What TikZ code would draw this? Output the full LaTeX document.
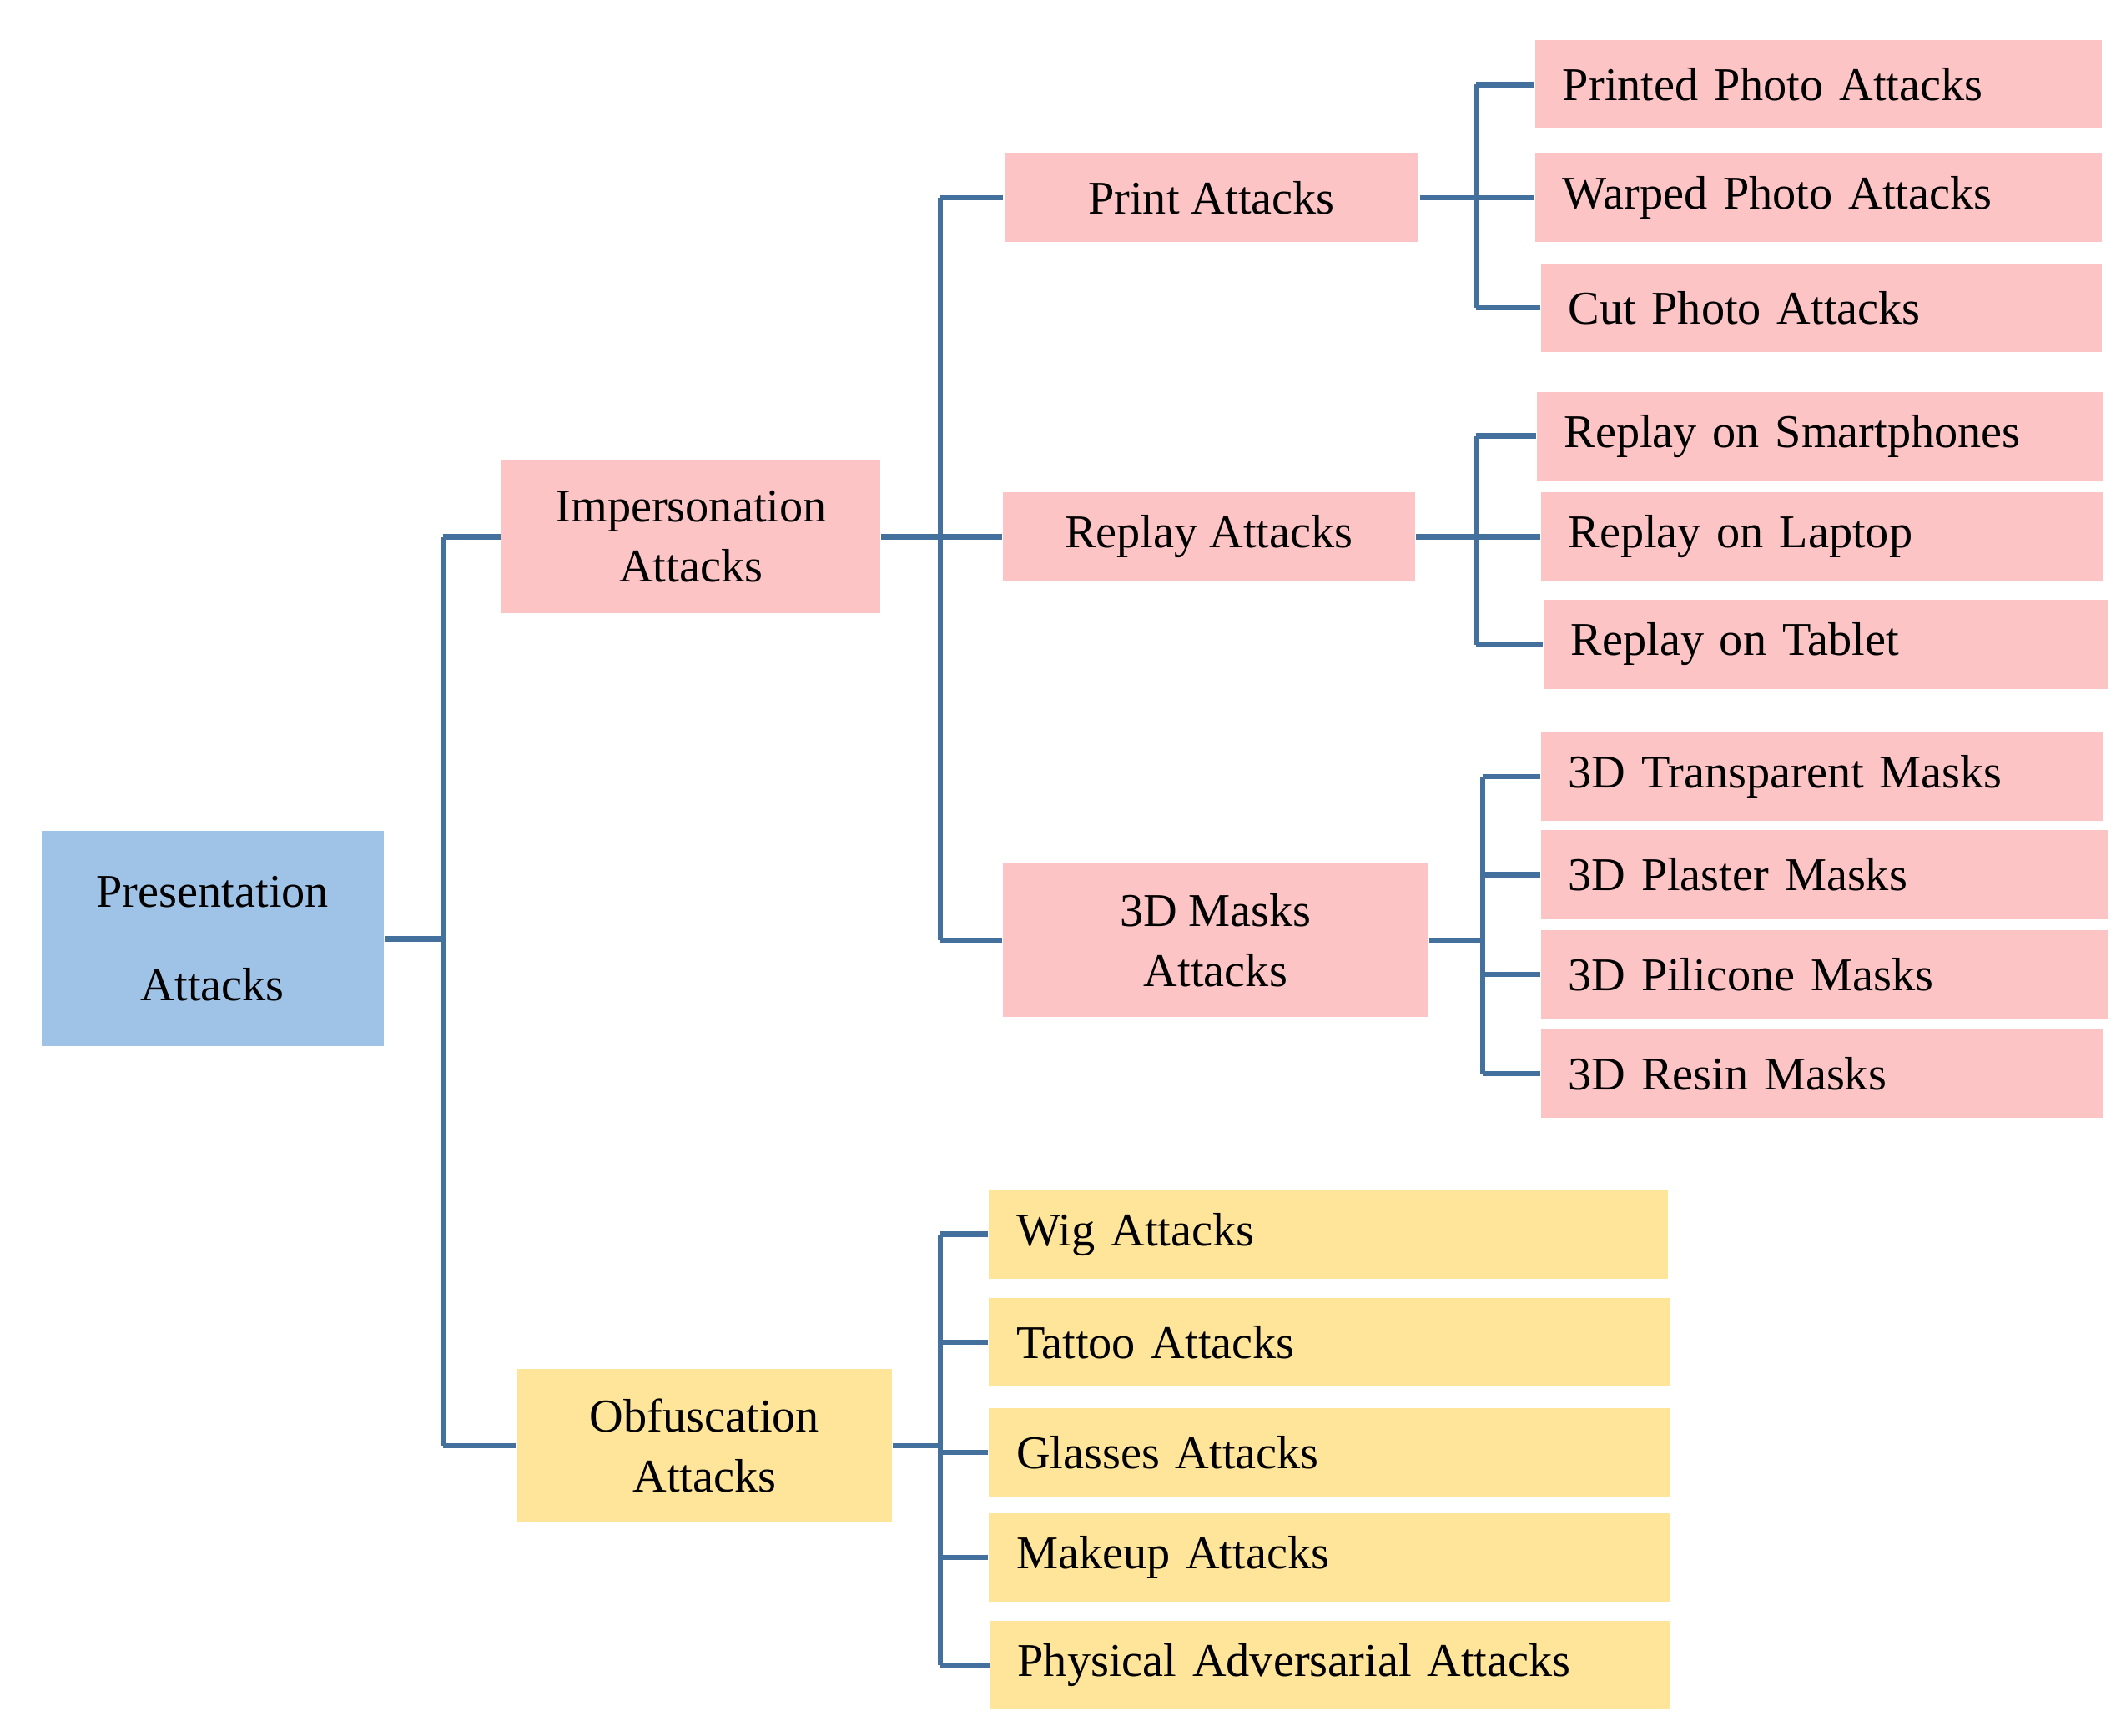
\documentclass[tikz,border=0pt]{standalone}
\usepackage{fontspec}
\setmainfont{Liberation Serif}
\definecolor{pk}{HTML}{FCC4C4}
\definecolor{bl}{HTML}{9FC3E7}
\definecolor{yl}{HTML}{FFE599}
\definecolor{ln}{HTML}{44709D}
\begin{document}
\begin{tikzpicture}[x=0.01cm,y=-0.01cm,
  font=\fontsize{9.8}{12.5}\selectfont,
  bx/.style={draw=none,inner sep=0pt,align=center},
  lf/.style={draw=none,inner xsep=0.2cm,inner ysep=0pt,align=left,anchor=west,minimum height=0.65cm},
  con/.style={draw=ln,line width=1.15pt}]
\useasboundingbox (0,0) rectangle (1560,1274);
% main nodes
\node[bx,fill=bl,minimum width=2.51cm,minimum height=1.58cm,font=\fontsize{9.8}{19.5}\selectfont] (root) at (156,689) {Presentation\\Attacks};
\node[bx,fill=pk,minimum width=2.78cm,minimum height=1.12cm] (imp) at (507,394) {Impersonation\\Attacks};
\node[bx,fill=yl,minimum width=2.75cm,minimum height=1.13cm] (obf) at (517,1061) {Obfuscation\\Attacks};
\node[bx,fill=pk,minimum width=3.04cm,minimum height=0.65cm] (print) at (889,145) {Print Attacks};
\node[bx,fill=pk,minimum width=3.02cm,minimum height=0.65cm] (replay) at (887,394) {Replay Attacks};
\node[bx,fill=pk,minimum width=3.12cm,minimum height=1.13cm] (mask) at (892,690) {3D Masks\\Attacks};
% leaves
\node[lf,fill=pk,text width=3.75cm] (p1) at (1126,62) {Printed Photo Attacks};
\node[lf,fill=pk,text width=3.75cm] (p2) at (1126,145) {Warped Photo Attacks};
\node[lf,fill=pk,text width=3.71cm] (p3) at (1130,226) {Cut Photo Attacks};
\node[lf,fill=pk,text width=3.75cm] (r1) at (1127,320) {Replay on Smartphones};
\node[lf,fill=pk,text width=3.72cm] (r2) at (1130,394) {Replay on Laptop};
\node[lf,fill=pk,text width=3.74cm] (r3) at (1132,473) {Replay on Tablet};
\node[lf,fill=pk,text width=3.72cm] (m1) at (1130,570) {3D Transparent Masks};
\node[lf,fill=pk,text width=3.76cm] (m2) at (1130,642) {3D Plaster Masks};
\node[lf,fill=pk,text width=3.76cm] (m3) at (1130,715) {3D Pilicone Masks};
\node[lf,fill=pk,text width=3.72cm] (m4) at (1130,788) {3D Resin Masks};
\node[lf,fill=yl,text width=4.58cm] (o1) at (725,906) {Wig Attacks};
\node[lf,fill=yl,text width=4.60cm] (o2) at (725,985) {Tattoo Attacks};
\node[lf,fill=yl,text width=4.60cm] (o3) at (725,1066) {Glasses Attacks};
\node[lf,fill=yl,text width=4.59cm] (o4) at (725,1143) {Makeup Attacks};
\node[lf,fill=yl,text width=4.59cm] (o5) at (726,1222) {Physical Adversarial Attacks};
% trunks
\coordinate (t0) at (325,0);
\coordinate (t1) at (690,0);
\coordinate (t2) at (1083,0);
\coordinate (t3) at (1088,0);
\draw[con] (root.east) -- (root.east -| t0);
\draw[con] (t0 |- imp) -- (t0 |- obf);
\draw[con] (t0 |- imp) -- (imp.west);
\draw[con] (t0 |- obf) -- (obf.west);
\draw[con] (imp.east) -- (imp.east -| t1);
\draw[con] (t1 |- print) -- (t1 |- mask);
\foreach \n in {print,replay,mask} \draw[con] (t1 |- \n) -- (\n.west);
\draw[con] (print.east) -- (print.east -| t2);
\draw[con] (t2 |- p1) -- (t2 |- p3);
\foreach \n in {p1,p2,p3} \draw[con] (t2 |- \n) -- (\n.west);
\draw[con] (replay.east) -- (replay.east -| t2);
\draw[con] (t2 |- r1) -- (t2 |- r3);
\foreach \n in {r1,r2,r3} \draw[con] (t2 |- \n) -- (\n.west);
\draw[con] (mask.east) -- (mask.east -| t3);
\draw[con] (t3 |- m1) -- (t3 |- m4);
\foreach \n in {m1,m2,m3,m4} \draw[con] (t3 |- \n) -- (\n.west);
\draw[con] (obf.east) -- (obf.east -| t1);
\draw[con] (t1 |- o1) -- (t1 |- o5);
\foreach \n in {o1,o2,o3,o4,o5} \draw[con] (t1 |- \n) -- (\n.west);
\end{tikzpicture}
\end{document}
